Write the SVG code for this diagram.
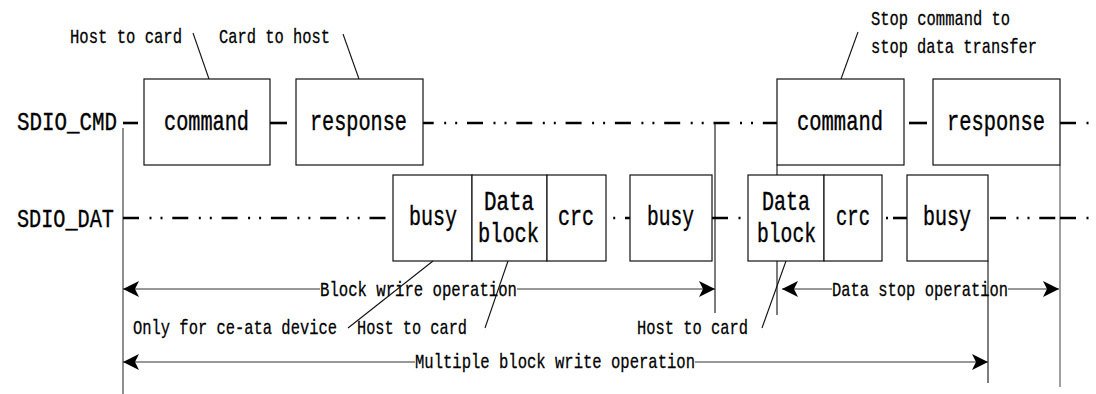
<svg xmlns="http://www.w3.org/2000/svg" width="1096" height="394" viewBox="0 0 1096 394">
<defs>
<style>
.t{font-family:"Liberation Mono","DejaVu Sans Mono",monospace;fill:#000}
.s{font-size:15.5px;stroke:#000;stroke-width:0.22}
.b{font-size:20.2px;stroke:#000;stroke-width:0.3}
.h{font-size:20.5px;stroke:#000;stroke-width:0.3}
.box{fill:#fff;stroke:#111;stroke-width:1.2}
.ln{stroke:#111;stroke-width:1.1;fill:none}
.gr{stroke:#888;stroke-width:1.6;fill:none}
.dd{stroke:#000;stroke-width:2.6;fill:none;stroke-dasharray:16 10.5 2 9 2 9.8}
.sol{stroke:#000;stroke-width:2.6}
.ar{stroke:#333;stroke-width:1.2;fill:none}
</style>
<marker id="ah" markerUnits="userSpaceOnUse" markerWidth="18" markerHeight="18" refX="16" refY="8" orient="auto-start-reverse">
<path d="M0,0 L16,8 L0,16 L4,8 Z" fill="#000"/>
</marker>
</defs>
<rect width="1096" height="394" fill="#fff"/>
<g id="connectors">
<line class="ln" x1="123" y1="128" x2="123" y2="394" style="stroke:#333"/>
<line class="ln" x1="715" y1="123" x2="715" y2="313"/>
<line class="ln" x1="777" y1="165" x2="777" y2="315"/>
<line class="ln" x1="988" y1="261" x2="988" y2="383"/>
<line class="gr" x1="1060" y1="165" x2="1060" y2="387"/>
<line class="sol" x1="123" y1="123" x2="138" y2="123"/>
<line class="sol" x1="270" y1="123" x2="287" y2="123"/>
<line class="dd" x1="423" y1="123" x2="777" y2="123" stroke-dashoffset="5.3"/>
<line class="sol" x1="909" y1="123" x2="927" y2="123"/>
<line class="dd" x1="1060" y1="123" x2="1096" y2="123"/>
<line class="dd" x1="123" y1="218" x2="393" y2="218"/>
<line class="dd" x1="606" y1="218" x2="630" y2="218" stroke-dashoffset="30.3"/>
<line class="dd" x1="712" y1="218" x2="748" y2="218"/>
<line class="sol" x1="886" y1="218" x2="888" y2="218"/>
<line class="sol" x1="893" y1="218" x2="907" y2="218"/>
<line class="dd" x1="990" y1="218" x2="1060" y2="218"/>
<line class="dd" x1="1060" y1="218" x2="1096" y2="218"/>
<line class="ln" x1="193" y1="33" x2="209" y2="79"/>
<line class="ln" x1="343" y1="34" x2="359" y2="79"/>
<line class="ln" x1="858" y1="32" x2="841" y2="79"/>
<line class="ar" x1="320" y1="289" x2="123" y2="289" marker-end="url(#ah)"/>
<line class="ar" x1="517" y1="289" x2="715" y2="289" marker-end="url(#ah)"/>
<line class="ar" x1="832" y1="289" x2="782" y2="289" marker-end="url(#ah)"/>
<line class="ar" x1="1008" y1="289" x2="1059" y2="289" marker-end="url(#ah)"/>
<line class="ar" x1="415" y1="362" x2="123" y2="362" marker-end="url(#ah)"/>
<line class="ar" x1="695" y1="362" x2="988" y2="362" marker-end="url(#ah)"/>
</g>
<g id="labels">
<text class="t h" transform="translate(17,130) scale(1,1.27)" textLength="100" lengthAdjust="spacingAndGlyphs">SDIO_CMD</text>
<text class="t h" transform="translate(17,227) scale(1,1.27)" textLength="97" lengthAdjust="spacingAndGlyphs">SDIO_DAT</text>
<text class="t s" transform="translate(70,43) scale(1,1.29)" textLength="112" lengthAdjust="spacingAndGlyphs">Host to card</text>
<text class="t s" transform="translate(219,43) scale(1,1.29)" textLength="111" lengthAdjust="spacingAndGlyphs">Card to host</text>
<text class="t s" transform="translate(871,25) scale(1,1.29)" textLength="139" lengthAdjust="spacingAndGlyphs">Stop command to</text>
<text class="t s" transform="translate(871,53) scale(1,1.29)" textLength="166" lengthAdjust="spacingAndGlyphs">stop data transfer</text>
<text class="t s" transform="translate(320,296) scale(1,1.29)" textLength="197" lengthAdjust="spacingAndGlyphs">Block wrire operation</text>
<text class="t s" transform="translate(832,296) scale(1,1.29)" textLength="176" lengthAdjust="spacingAndGlyphs">Data stop operation</text>
<text class="t s" transform="translate(415,368) scale(1,1.29)" textLength="280" lengthAdjust="spacingAndGlyphs">Multiple block write operation</text>
<text class="t s" transform="translate(133,334) scale(1,1.29)" textLength="204" lengthAdjust="spacingAndGlyphs">Only for ce-ata device</text>
<text class="t s" transform="translate(357,334) scale(1,1.29)" textLength="110" lengthAdjust="spacingAndGlyphs">Host to card</text>
<text class="t s" transform="translate(637,334) scale(1,1.29)" textLength="111" lengthAdjust="spacingAndGlyphs">Host to card</text>
</g>
<g id="cmd1"><rect class="box" x="144" y="79" width="126" height="86"/><text class="t b" transform="translate(164,130) scale(1,1.39)" textLength="85" lengthAdjust="spacingAndGlyphs">command</text></g>
<g id="resp1"><rect class="box" x="296" y="79" width="127" height="86"/><text class="t b" transform="translate(310,130) scale(1,1.39)" textLength="97" lengthAdjust="spacingAndGlyphs">response</text></g>
<g id="cmd2"><rect class="box" x="777" y="79" width="127" height="86"/><text class="t b" transform="translate(797,130) scale(1,1.39)" textLength="86" lengthAdjust="spacingAndGlyphs">command</text></g>
<g id="resp2"><rect class="box" x="933" y="79" width="127" height="86"/><text class="t b" transform="translate(947,130) scale(1,1.39)" textLength="98" lengthAdjust="spacingAndGlyphs">response</text></g>
<g id="busy1"><rect class="box" x="393" y="175" width="79" height="86"/><text class="t b" transform="translate(409,225) scale(1,1.39)" textLength="48" lengthAdjust="spacingAndGlyphs">busy</text></g>
<g id="data1"><rect class="box" x="472" y="175" width="75" height="86"/><text class="t b" transform="translate(484,210) scale(1,1.39)" textLength="50" lengthAdjust="spacingAndGlyphs">Data</text><text class="t b" transform="translate(478,242) scale(1,1.39)" textLength="61" lengthAdjust="spacingAndGlyphs">block</text></g>
<g id="crc1"><rect class="box" x="547" y="175" width="59" height="86"/><text class="t b" transform="translate(558,225) scale(1,1.39)" textLength="36" lengthAdjust="spacingAndGlyphs">crc</text></g>
<g id="busy2"><rect class="box" x="630" y="175" width="82" height="86"/><text class="t b" transform="translate(647,225) scale(1,1.39)" textLength="47" lengthAdjust="spacingAndGlyphs">busy</text></g>
<g id="data2"><rect class="box" x="748" y="175" width="76" height="86"/><text class="t b" transform="translate(762,210) scale(1,1.39)" textLength="48" lengthAdjust="spacingAndGlyphs">Data</text><text class="t b" transform="translate(757,242) scale(1,1.39)" textLength="59" lengthAdjust="spacingAndGlyphs">block</text></g>
<g id="crc2"><rect class="box" x="824" y="175" width="58" height="86"/><text class="t b" transform="translate(836,225) scale(1,1.39)" textLength="34" lengthAdjust="spacingAndGlyphs">crc</text></g>
<g id="busy3"><rect class="box" x="907" y="175" width="81" height="86"/><text class="t b" transform="translate(923,225) scale(1,1.39)" textLength="48" lengthAdjust="spacingAndGlyphs">busy</text></g>
<g id="leaders">
<line class="ln" x1="433" y1="261" x2="348" y2="328"/>
<line class="ln" x1="508" y1="261" x2="485" y2="328"/>
<line class="ln" x1="786" y1="261" x2="762" y2="328"/>
</g>
</svg>
